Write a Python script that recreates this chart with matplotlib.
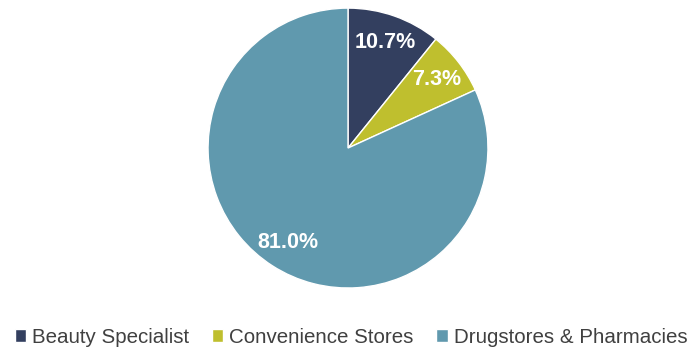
import matplotlib.pyplot as plt
import matplotlib

matplotlib.rcParams['font.family'] = ['Liberation Sans', 'DejaVu Sans']

# dados do gráfico
categorias = ['Beauty Specialist', 'Convenience Stores', 'Drugstores & Pharmacies']
valores = [10.7, 7.3, 81.0]
cores = ['#333F5F', '#BFBF2E', '#6099AE']

fig = plt.figure(figsize=(6.94, 3.49), dpi=100)
ax = fig.add_axes([0.2997, 0.1748, 0.4035, 0.802])

wedges, textos = ax.pie(valores, colors=cores, startangle=90, counterclock=False,
                        labels=[f'{v:.1f}%' for v in valores], labeldistance=0.8,
                        wedgeprops=dict(edgecolor='white', linewidth=1))
for t in textos:
    t.set_color('white')
    t.set_fontweight('bold')
    t.set_fontsize(15.5)
    t.set_ha('center')
    t.set_va('center')
ax.set_xlim(-1, 1)
ax.set_ylim(-1, 1)
ax.set_aspect('equal')

fig.legend(wedges, categorias, loc='center', bbox_to_anchor=(0.506, 0.034), ncol=3,
           frameon=False, fontsize=14.8, handlelength=0.55, handleheight=0.55,
           handletextpad=0.3, columnspacing=1.1, labelcolor='#404040')

plt.savefig('out.png', dpi=100)
